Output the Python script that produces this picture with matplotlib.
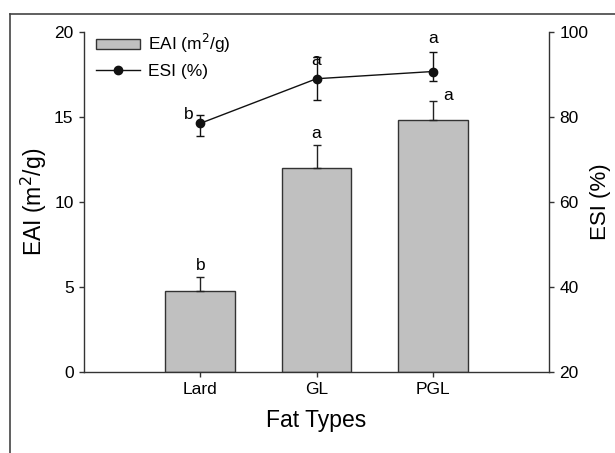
import matplotlib
matplotlib.use("Agg")
import matplotlib.pyplot as plt
from matplotlib.lines import Line2D
from matplotlib.patches import Patch

plt.rcParams['font.family'] = ['Liberation Sans', 'DejaVu Sans']

# data
fat_types = ["Lard", "GL", "PGL"]
eai = [4.75, 12.0, 14.85]
eai_err = [0.85, 1.35, 1.1]
eai_letters = ["b", "a", "a"]
esi = [78.5, 89.0, 90.7]
esi_err_low = [3.0, 5.0, 2.2]
esi_err_high = [2.0, 5.0, 4.7]
esi_letters = ["b", "a", "a"]

fig = plt.figure(figsize=(6.15, 4.53), dpi=100)
ax = fig.add_axes([0.1366, 0.1788, 0.7561, 0.7506])
ax2 = ax.twinx()

# partial frame around the figure (left + top)
fig.add_artist(Line2D([0.017, 0.017], [0, 0.969], color="#444444", lw=1.2,
                      transform=fig.transFigure))
fig.add_artist(Line2D([0.017, 1.0], [0.969, 0.969], color="#444444", lw=1.2,
                      transform=fig.transFigure))

x = [1, 2, 3]
ax.bar(x, eai, width=0.6, color="#c0c0c0", edgecolor="#333333", linewidth=1.0, zorder=2)
ax.errorbar(x, eai, yerr=[[0, 0, 0], eai_err], fmt="none", ecolor="#222222",
            elinewidth=1.0, capsize=3.2, capthick=1.0, zorder=3)
ax2.errorbar(x, esi, yerr=[esi_err_low, esi_err_high], fmt="-o", color="#111111",
             ms=6, lw=1.0, elinewidth=1.0, capsize=3.2, capthick=1.0, zorder=4)

# significance letters
for xi, v, e, l in zip(x, eai, eai_err, eai_letters):
    dx = 0.13 if xi == 3 else 0
    dy = 0.25 if xi != 3 else -0.15
    ax.text(xi + dx, v + e + dy, l, ha="center", va="bottom", fontsize=12.5)
esi_pos = [(0.9, esi[0] + 0.3), (2.0, esi[1] + 2.5), (3.0, esi[2] + 6.0)]
for (xt, yt), l in zip(esi_pos, esi_letters):
    ax2.text(xt, yt, l, ha="center", va="bottom", fontsize=12.5)

ax.set_xlim(0, 4)
ax.set_ylim(0, 20)
ax2.set_ylim(20, 100)
ax.set_xticks(x)
ax.set_xticklabels(fat_types)
ax.set_yticks([0, 5, 10, 15, 20])
ax2.set_yticks([20, 40, 60, 80, 100])

for a in (ax, ax2):
    a.spines["top"].set_visible(False)
    for s in a.spines.values():
        s.set_color("#333333")
        s.set_linewidth(1.0)
    a.tick_params(direction="out", length=3.5, width=1.0, color="#333333",
                  labelsize=12.5, pad=4)
ax.spines["right"].set_visible(False)
ax2.spines["left"].set_visible(False)
ax2.spines["bottom"].set_visible(False)

ax.set_xlabel("Fat Types", fontsize=16.5, labelpad=8)
ax.set_ylabel("EAI (m$^2$/g)", fontsize=16.5, labelpad=4)
ax2.set_ylabel("ESI (%)", fontsize=16, labelpad=1)

handles = [Patch(facecolor="#c0c0c0", edgecolor="#333333", linewidth=1.0),
           Line2D([], [], color="#111111", marker="o", ms=6, lw=1.0)]
ax2.legend(handles, ["EAI (m$^2$/g)", "ESI (%)"], loc="upper left",
           bbox_to_anchor=(0.0, 1.035), frameon=False, fontsize=12.5,
           handlelength=2.5, handleheight=0.5, handletextpad=0.5,
           labelspacing=0.5, borderaxespad=0.3)

fig.savefig("out.png", dpi=100)
